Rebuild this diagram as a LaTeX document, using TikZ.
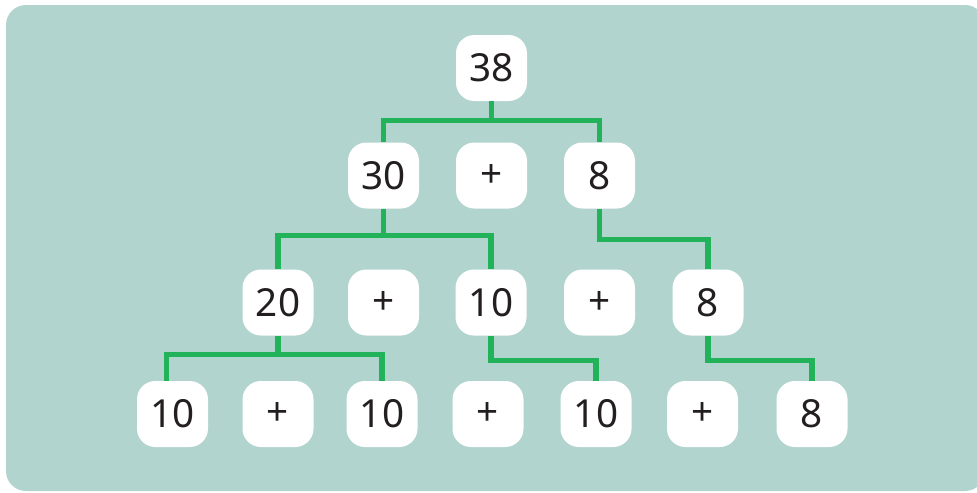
\documentclass[tikz,border=0pt]{standalone}
\usepackage{fontspec}
\setmainfont{Noto Sans}
\usepackage{tikz}
\usetikzlibrary{positioning}
\definecolor{panel}{HTML}{B2D4CE}
\definecolor{ink}{HTML}{231F20}
\definecolor{branch}{HTML}{22B35A}

\begin{document}
\begin{tikzpicture}[x=0.03cm,y=-0.03cm]
    \tikzset{
      numbox/.style={rounded corners=0.55cm,fill=white,draw=none,minimum width=2.13cm,minimum height=1.98cm,inner sep=0pt,text=ink,font=\fontsize{33}{36}\selectfont},
      link/.style={draw=branch,line width=4.3pt}
    }
    \useasboundingbox (0,0) rectangle (977,492);
    \fill[panel,rounded corners=0.6cm] (6,5) rectangle (985,491);
    % sums
    \node[numbox] (top) at (491.5,68) {38};
    \node[numbox] (a30) at (383.5,175.5) {30};
    \node[numbox] (a8) at (599.5,175.5) {8};
    \node[numbox] (b20) at (278,302.5) {20};
    \node[numbox] (b10) at (491,302.5) {10};
    \node[numbox] (b8) at (708,302.5) {8};
    \node[numbox] (c10l) at (172.5,414) {10};
    \node[numbox] (c10m) at (382,414) {10};
    \node[numbox] (c10r) at (596,414) {10};
    \node[numbox] (c8) at (812,414) {8};
    % plus signs
    \foreach \x/\y/\n in {491.5/175.5/pa,383.5/302.5/pb1,599.5/302.5/pb2,278/414/pc1,488/414/pc2,702.5/414/pc3} {
      \node[numbox] (\n) at (\x,\y) {+};
    }
    % branches
    \draw[link] (top.south) -- ++(0,19) coordinate (jtop);
    \draw[link] (a30.north) |- (jtop) -| (a8.north);
    \draw[link] (a30.south) -- ++(0,27) coordinate (j30);
    \draw[link] (b20.north) |- (j30) -| (b10.north);
    \draw[link] (a8.south) -- ++(0,31) -| (b8.north);
    \draw[link] (b20.south) -- ++(0,19) coordinate (j20);
    \draw[link] ([xshift=-0.18cm]c10l.north) |- (j20) -| (c10m.north);
    \draw[link] (b10.south) -- ++(0,25) -| (c10r.north);
    \draw[link] (b8.south) -- ++(0,25) -| (c8.north);
  \end{tikzpicture}
\end{document}
